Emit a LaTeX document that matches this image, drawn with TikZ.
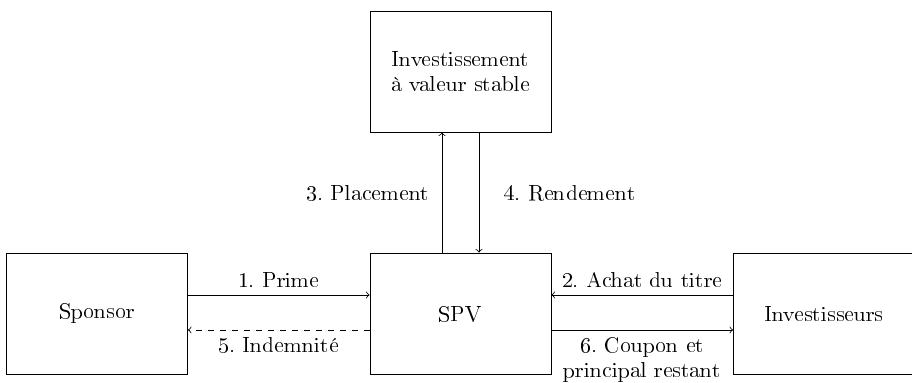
\documentclass[11pt,tikz,border=0pt]{standalone}
\usepackage[T1]{fontenc}
\frenchspacing
\begin{document}
\begin{tikzpicture}[x=0.5pt,y=-0.5pt,
  every node/.style={font=\fontsize{10.6}{12.3}\selectfont},
  box/.style={draw,minimum width=90.5pt,minimum height=60.5pt,align=center,inner sep=0pt},
  flow/.style={->}]
\useasboundingbox (0,0) rectangle (912,382);
\node[box] (top) at (460.5,71.5) {Investissement\\à valeur stable};
\node[box] (sponsor) at (97,313.5) {Sponsor};
\node[box] (spv) at (460.5,313.5) {SPV};
\node[box] (inv) at (824,313.5) {Investisseurs};
% horizontal flows
\draw[flow] ([yshift=9.25pt]sponsor.east) -- ([yshift=9.25pt]spv.west)
  node[midway,above] {1. Prime};
\draw[flow,dashed] ([yshift=-8.25pt]spv.west) -- ([yshift=-8.25pt]sponsor.east)
  node[midway,below] {5. Indemnité};
\draw[flow] ([yshift=9.25pt]inv.west) -- ([yshift=9.25pt]spv.east)
  node[midway,above] {2. Achat du titre};
\draw[flow] ([yshift=-8.25pt]spv.east) -- ([yshift=-8.25pt]inv.west)
  node[midway,below,align=center] {6. Coupon et\\principal restant};
% vertical flows
\draw[flow] ([xshift=-9.25pt]spv.north) -- ([xshift=-9.25pt]top.south)
  node[midway,left,xshift=-2.5pt] {3. Placement};
\draw[flow] ([xshift=9.25pt]top.south) -- ([xshift=9.25pt]spv.north)
  node[midway,right,xshift=8.7pt] {4. Rendement};
\end{tikzpicture}
\end{document}
